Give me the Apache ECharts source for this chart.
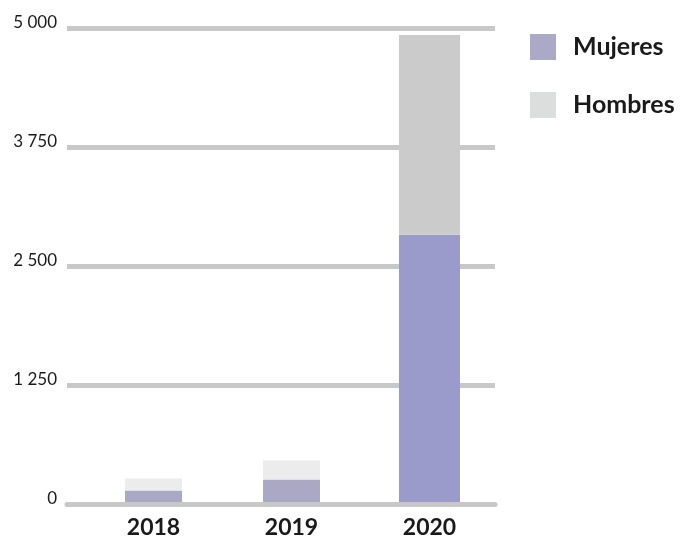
<!DOCTYPE html>
<html>
<head>
<meta charset="utf-8">
<script src="https://cdn.jsdelivr.net/npm/echarts@6/dist/echarts.min.js"></script>
<style>
  html, body { margin: 0; padding: 0; background: #ffffff; }
  #chart { width: 681px; height: 539px; }
</style>
</head>
<body>
<div id="chart"></div>
<script>
// Years on the category axis
const years = ['2018', '2019', '2020'];
// Values per year
const mujeres = [142, 257, 2831];
const hombres = [126, 200, 2101];
// Value axis ticks
const yTicks = [0, 1250, 2500, 3750, 5000];

const lastIdx = years.length - 1;
const earlier = (arr) => arr.map((v, i) => (i === lastIdx ? null : v));
const latest = (arr) => arr.map((v, i) => (i === lastIdx ? v : null));

const fmt = (v) => String(v).replace(/\B(?=(\d{3})+(?!\d))/g, ' ');

const chart = echarts.init(document.getElementById('chart'), null, { renderer: 'canvas' });

chart.setOption({
  animation: false,
  backgroundColor: '#ffffff',
  textStyle: { fontFamily: 'Lato' },
  legend: {
    orient: 'vertical',
    left: 525,
    top: 29,
    itemWidth: 26,
    itemHeight: 26,
    itemGap: 32,
    icon: 'rect',
    textStyle: {
      fontFamily: 'Lato',
      fontWeight: 'bold',
      fontSize: 25,
      color: '#1a1a1a',
      padding: [0, 0, 0, 12]
    },
    data: [
      { name: 'Mujeres', itemStyle: { color: '#aca9c6' } },
      { name: 'Hombres', itemStyle: { color: '#dcdddd' } }
    ]
  },
  grid: [
    { left: 67, right: 186, top: 28.5, bottom: 34.5 },
    { left: 84.5, right: 182.5, top: 28.5, bottom: 34.5 }
  ],
  xAxis: [
    {
      gridIndex: 0,
      type: 'value',
      min: 0,
      max: 1,
      z: 10,
      axisLine: { show: true, onZero: false, lineStyle: { color: '#c8c8c8', width: 5 } },
      axisTick: { show: false },
      axisLabel: { show: false },
      splitLine: { show: false }
    },
    {
      gridIndex: 1,
      type: 'category',
      data: years,
      position: 'bottom',
      axisLine: { show: false },
      axisTick: { show: false },
      axisLabel: {
        fontFamily: 'Lato',
        fontWeight: 'bold',
        fontSize: 23,
        color: '#1a1a1a',
        margin: 12
      }
    },
    {
      gridIndex: 1,
      type: 'category',
      data: years,
      position: 'top',
      show: false
    }
  ],
  yAxis: [
    {
      gridIndex: 0,
      type: 'value',
      min: yTicks[0],
      max: yTicks[yTicks.length - 1],
      interval: yTicks[1] - yTicks[0],
      axisLine: { show: false },
      axisTick: { show: false },
      axisLabel: {
        fontFamily: 'Lato',
        fontSize: 17,
        color: '#1a1a1a',
        margin: 10,
        verticalAlign: 'bottom',
        lineHeight: 11,
        formatter: fmt
      },
      splitLine: { show: true, lineStyle: { color: '#c8c8c8', width: 5 } }
    },
    {
      gridIndex: 1,
      type: 'value',
      min: yTicks[0],
      max: yTicks[yTicks.length - 1],
      show: false,
      splitLine: { show: false }
    }
  ],
  series: [
    {
      name: 'Mujeres',
      type: 'bar',
      xAxisIndex: 1,
      yAxisIndex: 1,
      stack: 'earlier',
      barWidth: 57,
      itemStyle: { color: '#aaa8c4' },
      data: earlier(mujeres)
    },
    {
      name: 'Hombres',
      type: 'bar',
      xAxisIndex: 1,
      yAxisIndex: 1,
      stack: 'earlier',
      barWidth: 57,
      itemStyle: { color: '#ebeceb' },
      data: earlier(hombres)
    },
    {
      name: 'Mujeres',
      type: 'bar',
      xAxisIndex: 2,
      yAxisIndex: 1,
      stack: 'latest',
      barWidth: 61,
      itemStyle: { color: '#9b9bcb' },
      data: latest(mujeres)
    },
    {
      name: 'Hombres',
      type: 'bar',
      xAxisIndex: 2,
      yAxisIndex: 1,
      stack: 'latest',
      barWidth: 61,
      itemStyle: { color: '#cbcbcb' },
      data: latest(hombres)
    }
  ]
});
</script>
</body>
</html>
